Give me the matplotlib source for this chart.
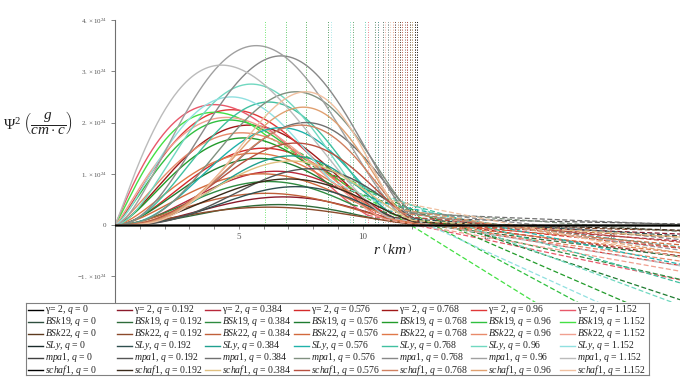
import numpy as np
import matplotlib
matplotlib.use("Agg")
import matplotlib.pyplot as plt
from matplotlib.lines import Line2D

plt.rcParams['font.family'] = ['Liberation Serif', 'DejaVu Serif']
plt.rcParams['mathtext.fontset'] = 'custom'
plt.rcParams['mathtext.rm'] = 'Liberation Serif'
plt.rcParams['mathtext.it'] = 'Liberation Serif:italic'
plt.rcParams['mathtext.bf'] = 'Liberation Serif:bold'

# ---------------- data ----------------
q_values = [0, 0.192, 0.384, 0.576, 0.768, 0.96, 1.152]
q_labels = ["0", "0.192", "0.384", "0.576", "0.768", "0.96", "1.152"]
eos_names = ["gamma2", "BSk19", "BSk22", "SLy", "mpa1", "schaf1"]
eos_labels = [u"\u03b3= 2", r"$\mathit{BSk19}$", r"$\mathit{BSk22}$",
              r"$\mathit{SLy}$", r"$\mathit{mpa1}$", r"$\mathit{schaf1}$"]

colors = {
    "gamma2": ["#000000", "#8b1a2b", "#b8283a", "#d42a2a", "#a01818", "#e03838", "#e8586a"],
    "BSk19":  ["#2f4f3f", "#2e6b3a", "#2e8b40", "#1e7b30", "#229b2a", "#30c040", "#44e044"],
    "BSk22":  ["#5c3a1e", "#8b4a2b", "#c0603a", "#d2693c", "#e07848", "#e88a6a", "#f0a090"],
    "SLy":    ["#1a2a2a", "#2f4f4f", "#20a090", "#20b2aa", "#40c0a0", "#70d8c0", "#90e0e0"],
    "mpa1":   ["#404040", "#555555", "#707070", "#809080", "#888888", "#a0a0a0", "#bbbbbb"],
    "schaf1": ["#000000", "#3a2a1a", "#e0c080", "#b85040", "#d08060", "#e0a070", "#f0c0a0"],
}

# peak value of Psi^2 (units 1e24 g/(cm c)) for q = 0 .. 1.152
peak = {
    "gamma2": [0, 0.55, 1.05, 1.50, 1.95, 2.25, 2.35],
    "BSk19":  [0, 0.40, 0.85, 1.30, 1.70, 2.05, 2.20],
    "BSk22":  [0, 0.35, 0.62, 1.00, 1.40, 1.80, 2.10],
    "SLy":    [0, 0.75, 1.35, 1.90, 2.40, 2.75, 2.50],
    "mpa1":   [0, 1.10, 2.00, 2.60, 3.30, 3.50, 3.12],
    "schaf1": [0, 0.90, 1.25, 1.60, 1.95, 2.30, 2.60],
}
# radius (km) of the peak
peak_r = {
    "gamma2": [6.8, 6.8, 6.5, 6.0, 5.4, 4.7, 4.0],
    "BSk19":  [6.6, 6.6, 6.2, 5.8, 5.2, 4.6, 4.0],
    "BSk22":  [6.2, 6.2, 6.1, 5.9, 5.6, 5.1, 4.5],
    "SLy":    [7.3, 7.3, 7.1, 6.7, 6.2, 5.5, 4.7],
    "mpa1":   [7.9, 7.9, 7.7, 7.3, 6.7, 5.7, 4.3],
    "schaf1": [7.0, 7.0, 7.1, 7.3, 7.5, 7.6, 7.7],
}
# radius (km) where the interior profile would vanish
zero_r = {
    "gamma2": [12.7, 12.7, 12.5, 12.3, 12.1, 11.8, 11.5],
    "BSk19":  [12.4, 12.4, 12.2, 12.0, 11.7, 11.4, 11.0],
    "BSk22":  [12.9, 12.9, 12.8, 12.6, 12.4, 12.2, 11.9],
    "SLy":    [12.5, 12.5, 12.3, 12.1, 11.8, 11.5, 11.1],
    "mpa1":   [13.0, 13.0, 12.9, 12.8, 12.6, 12.4, 12.0],
    "schaf1": [12.9, 12.9, 12.8, 12.7, 12.5, 12.3, 12.1],
}
# stellar surface radius R (km): dotted vertical lines, end of solid curve
surface_r = {
    "gamma2": [11.9, 11.8, 11.6, 11.3, 11.0, 10.6, 10.2],
    "BSk19":  [10.8, 10.5, 9.6, 8.6, 7.7, 6.9, 6.05],
    "BSk22":  [12.1, 12.0, 11.9, 11.7, 11.5, 11.2, 10.9],
    "SLy":    [11.5, 11.3, 11.0, 10.6, 10.1, 9.5, 8.7],
    "mpa1":   [12.2, 12.1, 12.0, 11.9, 11.7, 11.4, 11.0],
    "schaf1": [12.2, 12.1, 12.0, 11.8, 11.6, 11.4, 11.1],
}
# exterior slope (1e24 per km) of the dashed continuation
ext_slope = {
    "gamma2": [0, -0.020, -0.035, -0.050, -0.065, -0.080, -0.100],
    "BSk19":  [0, -0.060, -0.110, -0.160, -0.210, -0.260, -0.300],
    "BSk22":  [0, -0.012, -0.025, -0.040, -0.055, -0.070, -0.085],
    "SLy":    [0, -0.030, -0.060, -0.100, -0.140, -0.180, -0.220],
    "mpa1":   [0, -0.010, -0.020, -0.035, -0.050, -0.065, -0.080],
    "schaf1": [0, -0.015, -0.030, -0.045, -0.060, -0.075, -0.095],
}

SCALE = 1e24
X_MAX = 22.8
Y_MIN, Y_MAX = -1.5, 4.0


def profile(r, A, rp, r0):
    u = np.clip(r / r0, 0, 1)
    up = rp / r0
    a = 2 * up / (1 - up)
    return A * (u / up) ** a * ((1 - u) / (1 - up)) ** 2


# ---------------- figure ----------------
fig = plt.figure(figsize=(6.8, 3.85), dpi=100)
ax = fig.add_axes([115 / 680, 83 / 385, 565 / 680, 282 / 385])
ax.set_xlim(0, X_MAX)
ax.set_ylim(Y_MIN * SCALE, Y_MAX * SCALE)

# dotted vertical lines at surfaces
for e in eos_names:
    for j in range(len(q_values)):
        ax.vlines(surface_r[e][j], 0, Y_MAX * SCALE, colors=colors[e][j],
                  linestyles=(0, (1, 2)), linewidth=0.6, zorder=1)

for e in eos_names:
    for j, q in enumerate(q_values):
        c = colors[e][j]
        R = surface_r[e][j]
        A = peak[e][j]
        if A == 0:
            ax.plot([0, X_MAX], [0, 0], color=c, lw=1.0, zorder=3)
            continue
        rin = np.linspace(0, R, 200)
        yin = profile(rin, A, peak_r[e][j], zero_r[e][j])
        ax.plot(rin, yin * SCALE, color=c, lw=1.0, zorder=2)
        rout = np.array([R, X_MAX])
        yR = yin[-1]
        yout = yR + ext_slope[e][j] * (rout - R)
        ax.plot(rout, yout * SCALE, color=c, lw=0.9, dashes=(4, 2), zorder=2)

# axes styling (Maple style)
for s in ["top", "right"]:
    ax.spines[s].set_visible(False)
ax.spines["left"].set_position(("data", 0))
ax.spines["bottom"].set_position(("data", 0))
for s in ["left", "bottom"]:
    ax.spines[s].set_color("#707070")
    ax.spines[s].set_linewidth(0.8)

ax.set_xticks([5, 10, 15, 20])
ax.set_xticks(np.arange(1, 23), minor=True)
ax.set_xticklabels(["5", "10", "15", "20"])
ax.tick_params(axis="x", which="both", direction="out", length=3, width=0.6,
               colors="#707070", labelsize=6.5, labelcolor="#555555", pad=3)
yt = [-1, 0, 1, 2, 3, 4]
ax.set_yticks([v * SCALE for v in yt])
ax.set_yticklabels([r"$-1.\times10^{24}$", "0", r"$1.\times10^{24}$",
                    r"$2.\times10^{24}$", r"$3.\times10^{24}$", r"$4.\times10^{24}$"])
ax.tick_params(axis="y", which="both", direction="out", length=3, width=0.6,
               colors="#707070", labelsize=5, labelcolor="#555555", pad=3)
ax.yaxis.get_offset_text().set_visible(False)

# axis labels
fig.text(38 / 680, 1 - 122 / 385, r"$\Psi^2\ \left(\dfrac{g}{cm\cdot c}\right)$",
         fontsize=11, ha="center", va="center", color="#222222")
ax.text(11.2, -0.47 * SCALE, r"$r\ \left(\,km\,\right)$", fontsize=11,
        ha="center", va="center", color="#222222")

# ---------------- legend (Maple-style grid) ----------------
lax = fig.add_axes([26 / 680, 10 / 385, 623 / 680, 72 / 385])
lax.set_xlim(0, 623)
lax.set_ylim(72, 0)
lax.set_xticks([])
lax.set_yticks([])
for s in lax.spines.values():
    s.set_color("#808080")
    s.set_linewidth(0.8)
col_w = 88.6
for j, ql in enumerate(q_labels):
    for i, e in enumerate(eos_names):
        y = 7 + 12 * i
        x0 = 2 + col_w * j
        lax.add_line(Line2D([x0, x0 + 15], [y, y], color=colors[e][j], lw=1.0))
        lax.text(x0 + 17, y, eos_labels[i] + r", $q$ = " + ql, fontsize=7,
                 va="center", ha="left", color="#222222")

fig.savefig("out.png", dpi=100)
